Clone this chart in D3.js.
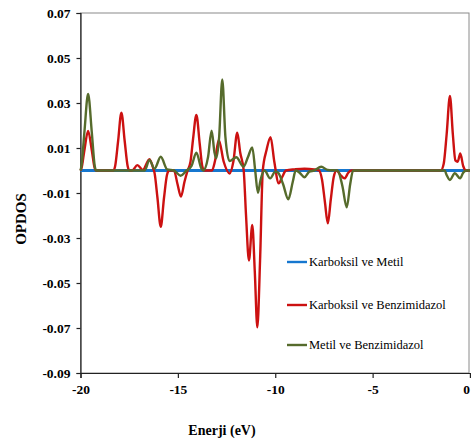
<!DOCTYPE html>
<html>
<head>
<meta charset="utf-8">
<script src="https://cdn.jsdelivr.net/npm/d3@7"></script>
<style>
  html, body { margin: 0; padding: 0; background: #fff; }
  svg { display: block; }
</style>
</head>
<body>
<div id="chart"></div>
<script>
// Overlap population density of states (OPDOS) between molecular fragments

const seriesNames = ["Karboksil ve Metil", "Karboksil ve Benzimidazol", "Metil ve Benzimidazol"];
const seriesColors = ["#1677cf", "#cc1111", "#566b2c"];

// Karboksil ve Metil: flat at zero over the whole energy window
const energyKM = [-20, -15, -10, -5, 0];
const opdosKM  = [0, 0, 0, 0, 0];

// Karboksil ve Benzimidazol
const energyKB = [
  -20.0, -19.95, -19.8, -19.61, -19.42, -19.27, -19.2,
  -18.3, -18.22, -18.07, -17.9, -17.73, -17.58, -17.5,
  -17.35, -17.08, -16.8, -16.46, -16.25,
  -16.2, -16.05, -15.88, -15.71, -15.56, -15.45,
  -15.2, -15.02, -14.84, -14.66, -14.5,
  -14.35, -14.22, -14.05, -13.88, -13.75, -13.65,
  -13.25, -13.1, -12.9, -12.65, -12.34, -12.15, -11.95, -11.8, -11.62,
  -11.5, -11.35, -11.18, -11.05, -10.92, -10.78, -10.64,
  -10.45, -10.24, -10.05, -9.82, -9.65, -9.45,
  -9.0, -8.5, -8.0, -7.75,
  -7.6, -7.45, -7.3, -7.15, -7.0, -6.85,
  -6.65, -6.44, -6.25, -6.1,
  -1.5, -1.35, -1.2, -1.03, -0.88, -0.75, -0.63, -0.5, -0.35, -0.2, 0.0
];
const opdosKB = [
  0, 0.001, 0.009, 0.0176, 0.009, 0.001, 0,
  0, 0.002, 0.013, 0.0257, 0.013, 0.002, 0,
  0, 0.0024, 0.0003, 0.005, 0.0005,
  -0.001, -0.012, -0.025, -0.012, -0.002, 0,
  0, -0.006, -0.0116, -0.005, 0,
  0.004, 0.014, 0.0247, 0.012, 0.002, 0,
  0, 0.004, 0.0136, 0.004, -0.0013, 0.004, 0.0168, 0.008, 0,
  -0.02, -0.040, -0.0242, -0.045, -0.0697, -0.040, 0,
  0.009, 0.0148, 0.004, -0.0057, -0.003, 0,
  0.0005, 0.0008, 0.0005, 0,
  -0.004, -0.014, -0.0235, -0.013, -0.003, 0,
  -0.002, -0.0035, -0.001, 0,
  0, 0.003, 0.016, 0.0331, 0.016, 0.0045, 0.0039, 0.0076, 0.002, 0, 0
];

// Metil ve Benzimidazol
const energyMB = [
  -20.0, -19.95, -19.8, -19.61, -19.42, -19.27, -19.2,
  -16.7, -16.46, -16.2, -15.88, -15.55,
  -15.2, -14.86, -14.55,
  -14.3, -14.05, -13.8, -13.7,
  -13.45, -13.27, -13.12, -13.03, -12.88, -12.72, -12.56, -12.35,
  -12.0, -11.63, -11.4, -11.18, -11.03, -10.89, -10.75, -10.55,
  -10.26, -10.0, -9.85, -9.6, -9.33, -9.1, -8.95,
  -8.75, -8.5, -8.25, -8.0, -7.64, -7.3, -6.8,
  -6.55, -6.33, -6.15, -6.0,
  -1.3, -1.2, -1.03, -0.78, -0.51, -0.35, -0.2, 0.0
];
const opdosMB = [
  0, 0.002, 0.017, 0.034, 0.017, 0.002, 0,
  0, 0.0047, 0.0008, 0.0061, 0.0005,
  0, -0.0023, 0,
  0.002, 0.0079, 0.001, 0,
  0.006, 0.0177, 0.008, 0.0054, 0.015, 0.0405, 0.015, 0.0042,
  0.0059, 0.0017, 0.006, 0.0103, 0.0, -0.0099, -0.004, 0,
  -0.0035, -0.0005, -0.001, -0.006, -0.0128, -0.005, 0,
  -0.001, -0.003, -0.0005, 0, 0.0017, 0.0002, 0,
  -0.007, -0.0164, -0.006, 0,
  0, -0.002, -0.0042, -0.0012, -0.0035, -0.001, 0, 0
];

const xTicks = [-20, -15, -10, -5, 0];
const xTickLabels = ["-20", "-15", "-10", "-5", "0"];
const yTicks = [0.07, 0.05, 0.03, 0.01, -0.01, -0.03, -0.05, -0.07, -0.09];
const yTickLabels = ["0.07", "0.05", "0.03", "0.01", "-0.01", "-0.03", "-0.05", "-0.07", "-0.09"];

const W = 471, H = 445;
const margin = { left: 80.5, right: 1, top: 13, bottom: 72 };

const svg = d3.select("#chart").append("svg")
  .attr("width", W).attr("height", H);

const x = d3.scaleLinear().domain([-20, 0]).range([margin.left, W - margin.right]);
const y = d3.scaleLinear().domain([-0.09, 0.07]).range([H - margin.bottom, margin.top]);

const serif = "'Liberation Serif', 'Times New Roman', serif";

// plot frame
svg.append("rect")
  .attr("x", x(-20)).attr("y", y(0.07))
  .attr("width", x(0) - x(-20) - 1).attr("height", y(-0.09) - y(0.07))
  .attr("fill", "none").attr("stroke", "#8a8a8a").attr("stroke-width", 1);

// axes
const xAxis = svg.append("g")
  .attr("transform", `translate(0,${y(-0.09)})`)
  .call(d3.axisBottom(x).tickValues(xTicks).tickSize(5).tickPadding(6)
    .tickFormat((d, i) => xTickLabels[i]));
const yAxis = svg.append("g")
  .attr("transform", `translate(${x(-20)},0)`)
  .call(d3.axisLeft(y).tickValues(yTicks).tickSize(4).tickPadding(6)
    .tickFormat((d, i) => yTickLabels[i]));

[xAxis, yAxis].forEach(g => {
  g.select(".domain").attr("stroke", "#222").attr("stroke-width", 1.2);
  g.selectAll(".tick line").attr("stroke", "#222").attr("stroke-width", 1.2);
  g.selectAll(".tick text")
    .attr("font-family", serif).attr("font-weight", "bold")
    .attr("font-size", 13.5).attr("fill", "#000");
});
// keep the last x label inside the right edge
xAxis.selectAll(".tick text").filter(d => d === 0).attr("text-anchor", "end").attr("dx", -0.5);

// curves
const line = d3.line()
  .x(d => x(d[0])).y(d => y(d[1]))
  .curve(d3.curveMonotoneX);

const seriesData = [
  d3.zip(energyKM, opdosKM),
  d3.zip(energyKB, opdosKB),
  d3.zip(energyMB, opdosMB)
];

const plot = svg.append("g");
seriesData.forEach((pts, i) => {
  plot.append("path")
    .datum(pts)
    .attr("fill", "none")
    .attr("stroke", seriesColors[i])
    .attr("stroke-width", i === 0 ? 2.8 : 2.4)
    .attr("stroke-linejoin", "round")
    .attr("d", line);
});

// axis titles
svg.append("text")
  .attr("x", 222).attr("y", 435)
  .attr("text-anchor", "middle")
  .attr("font-family", serif).attr("font-weight", "bold").attr("font-size", 14)
  .text("Enerji  (eV)");

svg.append("text")
  .attr("transform", "translate(26,219) rotate(-90)")
  .attr("text-anchor", "middle")
  .attr("font-family", serif).attr("font-weight", "bold").attr("font-size", 15)
  .text("OPDOS");

// legend
const legendY = [262, 305, 345];
const legend = svg.append("g");
seriesNames.forEach((name, i) => {
  legend.append("line")
    .attr("x1", 287).attr("x2", 307)
    .attr("y1", legendY[i]).attr("y2", legendY[i])
    .attr("stroke", seriesColors[i]).attr("stroke-width", 2.4);
  legend.append("text")
    .attr("x", 309).attr("y", legendY[i])
    .attr("dy", "0.35em")
    .attr("font-family", serif).attr("font-size", 12.5).attr("fill", "#000")
    .text(name);
});
</script>
</body>
</html>
